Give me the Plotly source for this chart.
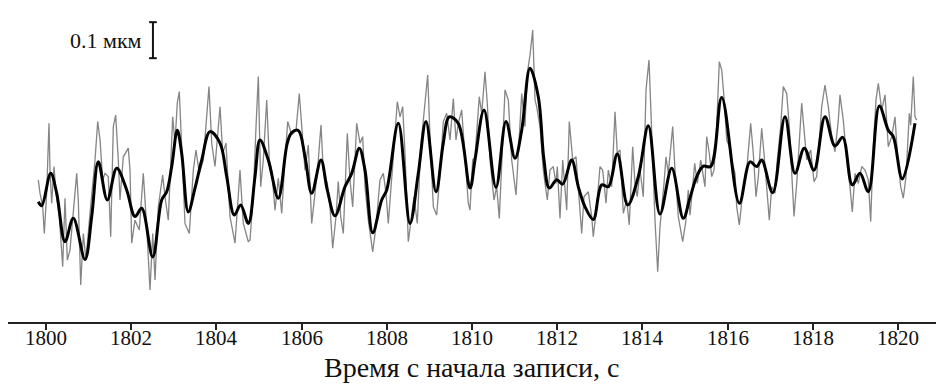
import plotly.graph_objects as go

# ---- data (time in s, displacement in µm) ----
smooth_t = [1799.819, 1799.899, 1800.110, 1800.251, 1800.446, 1800.641, 1800.915, 1801.073, 1801.228, 1801.439,
            1801.660, 1801.894, 1802.089, 1802.246, 1802.505, 1802.716, 1802.833, 1802.951, 1803.082, 1803.185,
            1803.340, 1803.498, 1803.655, 1803.850, 1804.085, 1804.242, 1804.420, 1804.570, 1804.749, 1804.906,
            1805.023, 1805.218, 1805.453, 1805.664, 1805.768, 1805.923, 1806.080, 1806.237, 1806.455, 1806.603,
            1806.784, 1807.019, 1807.176, 1807.355, 1807.488, 1807.669, 1807.880, 1807.998, 1808.270, 1808.545,
            1808.739, 1808.920, 1809.155, 1809.326, 1809.467, 1809.678, 1809.953, 1810.070, 1810.282, 1810.563,
            1810.798, 1811.009, 1811.167, 1811.362, 1811.556, 1811.690, 1811.815, 1811.988, 1812.129, 1812.340,
            1812.495, 1812.653, 1812.847, 1813.045, 1813.200, 1813.411, 1813.655, 1813.904, 1814.139, 1814.413,
            1814.688, 1814.960, 1815.117, 1815.275, 1815.430, 1815.603, 1815.862, 1816.275, 1816.526, 1816.683,
            1816.800, 1817.059, 1817.347, 1817.582, 1817.800, 1818.028, 1818.286, 1818.521, 1818.702, 1818.927,
            1819.108, 1819.303, 1819.561, 1819.772, 1819.890, 1820.101, 1820.399]
smooth_v = [-0.005, -0.016, 0.074, 0.019, -0.116, -0.051, -0.165, -0.046, 0.106, 0.000,
            0.088, 0.028, -0.046, -0.023, -0.158, 0.000, 0.023, 0.093, 0.194, 0.130,
            -0.033, 0.033, 0.111, 0.190, 0.158, 0.065, -0.042, -0.014, -0.065, 0.065,
            0.167, 0.111, 0.005, 0.158, 0.187, 0.193, 0.120, 0.019, 0.111, 0.028,
            -0.044, 0.037, 0.074, 0.144, 0.083, -0.091, 0.000, 0.028, 0.213, -0.065,
            0.074, 0.218, 0.023, 0.158, 0.231, 0.213, 0.033, 0.111, 0.250, 0.035,
            0.218, 0.116, 0.194, 0.366, 0.287, 0.111, 0.033, 0.056, 0.044, 0.111,
            0.037, -0.019, -0.054, 0.042, 0.037, 0.128, -0.014, 0.065, 0.206, -0.039,
            0.088, -0.051, 0.006, 0.065, 0.094, 0.093, 0.285, -0.009, 0.106, 0.093,
            0.111, 0.020, 0.231, 0.074, 0.144, 0.083, 0.231, 0.150, 0.174, 0.042,
            0.074, 0.023, 0.261, 0.194, 0.176, 0.058, 0.213]

raw_t = [1799.819, 1799.859, 1799.923, 1799.960, 1800.016, 1800.070, 1800.094, 1800.134, 1800.188, 1800.235,
         1800.312, 1800.392, 1800.446, 1800.500, 1800.563, 1800.721, 1800.758, 1800.815, 1800.876, 1800.939,
         1801.033, 1801.150, 1801.214, 1801.268, 1801.331, 1801.385, 1801.462, 1801.519, 1801.580, 1801.636,
         1801.697, 1801.737, 1801.815, 1801.932, 1801.972, 1802.012, 1802.089, 1802.190, 1802.284, 1802.364,
         1802.441, 1802.505, 1802.559, 1802.636, 1802.739, 1802.793, 1802.871, 1802.974, 1803.028, 1803.082,
         1803.129, 1803.185, 1803.263, 1803.364, 1803.458, 1803.521, 1803.599, 1803.692, 1803.772, 1803.826,
         1803.890, 1803.967, 1804.085, 1804.148, 1804.225, 1804.319, 1804.437, 1804.554, 1804.631, 1804.749,
         1804.789, 1804.866, 1804.930, 1804.984, 1805.040, 1805.101, 1805.181, 1805.242, 1805.298, 1805.376,
         1805.453, 1805.533, 1805.610, 1805.674, 1805.768, 1805.869, 1805.946, 1806.026, 1806.080, 1806.157,
         1806.237, 1806.315, 1806.392, 1806.455, 1806.509, 1806.603, 1806.667, 1806.730, 1806.808, 1806.861,
         1806.918, 1806.979, 1807.073, 1807.136, 1807.200, 1807.293, 1807.371, 1807.434, 1807.488, 1807.566,
         1807.669, 1807.746, 1807.840, 1807.918, 1807.981, 1808.035, 1808.092, 1808.153, 1808.246, 1808.310,
         1808.373, 1808.427, 1808.505, 1808.584, 1808.638, 1808.716, 1808.796, 1808.873, 1808.960, 1809.014,
         1809.092, 1809.171, 1809.249, 1809.326, 1809.406, 1809.484, 1809.561, 1809.624, 1809.678, 1809.758,
         1809.836, 1809.913, 1809.953, 1810.016, 1810.070, 1810.171, 1810.228, 1810.305, 1810.359, 1810.423,
         1810.516, 1810.580, 1810.641, 1810.697, 1810.775, 1810.852, 1810.932, 1811.033, 1811.110, 1811.167,
         1811.244, 1811.298, 1811.362, 1811.425, 1811.479, 1811.519, 1811.596, 1811.674, 1811.768, 1811.831,
         1811.908, 1811.972, 1812.002, 1812.066, 1812.129, 1812.223, 1812.284, 1812.364, 1812.441, 1812.519,
         1812.575, 1812.629, 1812.730, 1812.810, 1812.847, 1812.927, 1813.005, 1813.068, 1813.146, 1813.200,
         1813.279, 1813.357, 1813.411, 1813.474, 1813.552, 1813.631, 1813.692, 1813.772, 1813.826, 1813.880,
         1813.944, 1814.021, 1814.085, 1814.155, 1814.218, 1814.296, 1814.359, 1814.413, 1814.507, 1814.554,
         1814.608, 1814.711, 1814.765, 1814.843, 1814.946, 1815.023, 1815.077, 1815.117, 1815.181, 1815.228,
         1815.289, 1815.369, 1815.469, 1815.509, 1815.571, 1815.627, 1815.681, 1815.744, 1815.805, 1815.862,
         1815.915, 1815.979, 1816.040, 1816.096, 1816.174, 1816.214, 1816.275, 1816.354, 1816.448, 1816.542,
         1816.603, 1816.667, 1816.721, 1816.800, 1816.854, 1816.918, 1816.979, 1817.035, 1817.113, 1817.167,
         1817.246, 1817.307, 1817.387, 1817.448, 1817.505, 1817.559, 1817.622, 1817.683, 1817.739, 1817.857,
         1817.951, 1818.028, 1818.092, 1818.209, 1818.286, 1818.364, 1818.444, 1818.521, 1818.599, 1818.638,
         1818.716, 1818.796, 1818.873, 1818.927, 1818.991, 1819.068, 1819.148, 1819.225, 1819.303, 1819.359,
         1819.420, 1819.484, 1819.538, 1819.618, 1819.695, 1819.772, 1819.852, 1819.930, 1819.984, 1820.063,
         1820.124, 1820.188, 1820.265, 1820.298, 1820.359, 1820.399, 1820.439]
raw_v = [0.056, 0.019, -0.019, -0.093, 0.019, 0.213, 0.083, -0.009, 0.093, 0.019,
         -0.046, -0.185, 0.005, -0.167, -0.139, 0.074, 0.000, -0.236, -0.093, -0.167,
         -0.037, 0.111, 0.218, 0.167, 0.056, 0.074, 0.065, -0.102, 0.204, 0.236,
         0.111, 0.000, 0.120, 0.144, 0.083, -0.120, -0.056, -0.083, 0.074, -0.074,
         -0.250, -0.093, -0.222, -0.019, 0.069, 0.009, -0.056, 0.231, 0.158, 0.269,
         0.301, 0.130, -0.065, -0.093, 0.083, 0.139, 0.074, 0.111, 0.222, 0.315,
         0.158, 0.093, 0.259, 0.130, 0.158, -0.046, -0.120, 0.083, -0.065, -0.116,
         -0.111, 0.014, 0.204, 0.343, 0.037, 0.111, 0.278, 0.111, 0.083, -0.028,
         0.060, -0.037, 0.111, 0.218, 0.181, 0.194, 0.296, 0.176, 0.083, 0.153,
         -0.065, 0.019, 0.111, 0.208, 0.083, 0.046, -0.019, -0.134, -0.046, 0.051,
         -0.046, -0.093, 0.185, 0.056, -0.019, 0.213, 0.158, 0.176, 0.037, -0.056,
         -0.144, -0.074, 0.056, 0.074, 0.019, -0.065, 0.037, 0.120, 0.273, 0.231,
         0.259, 0.130, -0.116, -0.046, 0.009, -0.065, 0.148, 0.241, 0.347, 0.176,
         -0.019, -0.042, 0.074, 0.218, 0.241, 0.167, 0.282, 0.167, 0.213, 0.250,
         0.130, -0.009, -0.028, 0.111, 0.120, 0.287, 0.241, 0.356, 0.269, 0.111,
         0.000, 0.037, -0.051, 0.111, 0.306, 0.278, 0.111, 0.014, 0.167, 0.296,
         0.204, 0.352, 0.403, 0.472, 0.278, 0.259, 0.204, 0.083, 0.000, 0.083,
         0.093, 0.046, 0.093, -0.051, 0.111, -0.028, 0.218, 0.111, 0.120, 0.000,
         -0.093, 0.009, 0.023, -0.046, -0.102, -0.019, 0.093, 0.083, -0.009, 0.083,
         0.037, 0.245, 0.130, 0.139, -0.037, 0.000, -0.069, 0.148, 0.046, 0.009,
         0.083, 0.009, 0.306, 0.389, 0.167, -0.056, -0.199, -0.074, 0.046, 0.120,
         0.074, 0.204, 0.083, -0.046, -0.116, -0.056, 0.028, -0.042, 0.037, 0.102,
         0.046, 0.111, 0.037, 0.176, 0.130, 0.065, 0.083, 0.204, 0.384, 0.361,
         0.287, 0.167, 0.148, 0.111, 0.074, -0.019, -0.069, 0.019, 0.083, 0.213,
         0.130, 0.009, 0.065, 0.199, 0.130, 0.046, -0.056, 0.037, 0.019, 0.111,
         0.204, 0.315, 0.296, 0.204, 0.056, -0.046, 0.046, 0.158, 0.269, 0.111,
         0.139, 0.051, 0.065, 0.259, 0.319, 0.259, 0.176, 0.134, 0.222, 0.292,
         0.222, 0.111, 0.037, -0.033, 0.074, 0.046, 0.093, 0.083, 0.056, -0.060,
         0.148, 0.278, 0.324, 0.250, 0.292, 0.148, 0.176, 0.231, 0.130, 0.037,
         0.005, 0.065, 0.241, 0.208, 0.343, 0.231, 0.222]

tick_vals = [1800, 1802, 1804, 1806, 1808, 1810, 1812, 1814, 1816, 1818, 1820]
tick_text = [str(v) for v in tick_vals]

x_title = "Время с начала записи, с"
scale_label = "0.1 мкм"
SCALE_UM = 0.1          # length of the scale bar
SCALE_X = 1802.51       # time where the scale bar sits
SCALE_TOP = 0.494       # top of the scale bar, µm
CAP_HALF = 0.09         # half-width of the bar caps, s

X_RANGE = [1799.108, 1820.892]
Y_RANGE = [-0.3389, 0.5556]

SERIF = "Liberation Serif, Times New Roman, serif"
BOTTOM = 63
PLOT_H = 385 - BOTTOM

fig = go.Figure()
fig.add_trace(go.Scatter(x=raw_t, y=raw_v, mode="lines",
                         line=dict(color="#858585", width=1.3),
                         showlegend=False, hoverinfo="skip"))
fig.add_trace(go.Scatter(x=smooth_t, y=smooth_v, mode="lines",
                         line=dict(color="#000000", width=3, shape="spline", smoothing=1.0),
                         showlegend=False, hoverinfo="skip"))

# scale bar
bot = SCALE_TOP - SCALE_UM
fig.add_shape(type="line", x0=SCALE_X, x1=SCALE_X, y0=bot, y1=SCALE_TOP,
              line=dict(color="#111", width=2))
for yy in (bot, SCALE_TOP):
    fig.add_shape(type="line", x0=SCALE_X - CAP_HALF, x1=SCALE_X + CAP_HALF, y0=yy, y1=yy,
                  line=dict(color="#111", width=2))
fig.add_annotation(x=SCALE_X - 0.2, y=SCALE_TOP - SCALE_UM / 2, xref="x", yref="y",
                   text=scale_label, showarrow=False, xanchor="right", yanchor="middle",
                   font=dict(family=SERIF, size=22, color="#111"))

# tick labels placed just below the ticks
for tv, tt in zip(tick_vals, tick_text):
    fig.add_annotation(x=tv, y=0, xref="x", yref="paper", text=tt, showarrow=False,
                       xanchor="center", yanchor="top", yshift=-2,
                       font=dict(family=SERIF, size=21, color="#111"))

# axis title anchored at the bottom of the page
fig.add_annotation(x=0.5, y=-BOTTOM / PLOT_H, xref="paper", yref="paper",
                   text=x_title, showarrow=False, xanchor="center", yanchor="bottom",
                   yshift=0,
                   font=dict(family=SERIF, size=28, color="#111"))

fig.update_layout(
    width=936, height=385,
    margin=dict(l=8, r=0, t=0, b=BOTTOM),
    paper_bgcolor="white", plot_bgcolor="white",
    xaxis=dict(range=X_RANGE, tickmode="array", tickvals=tick_vals, showticklabels=False,
               showgrid=False, zeroline=False, showline=True, linecolor="#222", linewidth=2,
               ticks="outside", ticklen=6, tickwidth=1.5, tickcolor="#222"),
    yaxis=dict(range=Y_RANGE, visible=False, fixedrange=True),
)

fig.write_html("out.html")
